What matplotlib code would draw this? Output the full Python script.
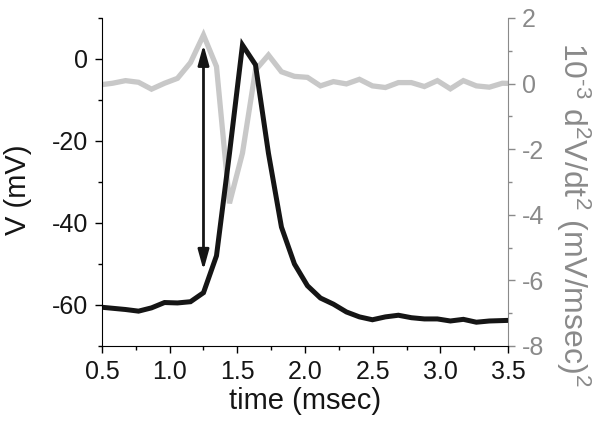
import matplotlib
matplotlib.use('Agg')
import matplotlib.pyplot as plt
from matplotlib.ticker import MultipleLocator

plt.rcParams['font.family'] = ['Liberation Sans', 'DejaVu Sans']
plt.rcParams['axes.unicode_minus'] = False
plt.rcParams['mathtext.fontset'] = 'custom'
plt.rcParams['mathtext.rm'] = 'Liberation Sans'
plt.rcParams['mathtext.it'] = 'Liberation Sans'

# sample times (msec)
time = [0.482, 0.578, 0.674, 0.770, 0.866, 0.962, 1.058, 1.154, 1.250, 1.346,
        1.442, 1.538, 1.634, 1.730, 1.826, 1.922, 2.018, 2.114, 2.210, 2.306,
        2.402, 2.498, 2.594, 2.690, 2.786, 2.882, 2.978, 3.074, 3.170, 3.266,
        3.362, 3.458, 3.554]

# membrane potential (mV)
volt = [-60.5, -60.8, -61.1, -61.5, -60.7, -59.4, -59.5, -59.2, -57.0, -48.0,
        -23.0, 3.4, -1.4, -23.0, -41.0, -50.0, -55.3, -58.3, -59.8, -61.7,
        -62.9, -63.6, -62.9, -62.5, -63.1, -63.4, -63.4, -63.9, -63.5, -64.2,
        -63.9, -63.8, -63.7]

# second derivative, 10^-3 (mV/msec)^2
d2v = [-0.04, 0.01, 0.09, 0.04, -0.17, 0.01, 0.16, 0.64, 1.48, 0.52,
       -3.65, -2.12, 0.41, 0.87, 0.36, 0.22, 0.19, -0.07, 0.06, -0.01,
       0.13, -0.07, -0.12, 0.03, 0.03, -0.09, 0.09, -0.16, 0.09, -0.07,
       -0.11, 0.01, 0.0]

# threshold arrow (time, from V, to V)
arrow_t = 1.25
arrow_lo = -51.5
arrow_hi = 3.5

gray_line = '#c8c8c8'
gray_axis = '#8a8a8a'
dark = '#151515'

fig = plt.figure(figsize=(6.02, 4.28), dpi=100)
ax = fig.add_axes([0.1694, 0.1916, 0.6745, 0.7664])
ax2 = ax.twinx()

ax2.plot(time, d2v, color=gray_line, lw=3.8, solid_joinstyle='miter')
ax.plot(time, volt, color=dark, lw=3.6, solid_joinstyle='miter')
ax.annotate('', xy=(arrow_t, arrow_hi), xytext=(arrow_t, arrow_lo),
            arrowprops=dict(arrowstyle='<|-|>,head_length=0.8,head_width=0.22',
                            color=dark, lw=2, mutation_scale=15,
                            shrinkA=0, shrinkB=0))

ax.set_zorder(ax2.get_zorder() + 1)
ax.patch.set_visible(False)

ax.set_xlim(0.5, 3.5)
ax.set_ylim(-70, 10)
ax2.set_ylim(-8, 2)

ax.xaxis.set_major_locator(MultipleLocator(0.5))
ax.xaxis.set_minor_locator(MultipleLocator(0.25))
ax.yaxis.set_major_locator(MultipleLocator(20))
ax.yaxis.set_minor_locator(MultipleLocator(10))
ax2.yaxis.set_major_locator(MultipleLocator(2))
ax2.yaxis.set_minor_locator(MultipleLocator(1))
ax.xaxis.set_major_formatter(matplotlib.ticker.FormatStrFormatter('%.1f'))

for a in (ax, ax2):
    a.spines['top'].set_visible(False)
ax.spines['right'].set_visible(False)
ax2.spines['left'].set_visible(False)
ax2.spines['bottom'].set_visible(False)
ax2.spines['right'].set_color(gray_axis)

ax.tick_params(which='major', length=5, width=1, labelsize=18, pad=5,
               direction='out', labelcolor=dark)
ax.tick_params(which='minor', length=3, width=1, direction='out')
ax2.tick_params(which='major', length=5, width=1, labelsize=18, pad=5,
                colors=gray_axis, direction='out')
ax2.tick_params(which='minor', length=3, width=1, colors=gray_axis, direction='out')

ax.set_xlabel('time (msec)', fontsize=21, labelpad=2, color=dark)
ax.set_ylabel('V (mV)', fontsize=21, color=dark)
ax.yaxis.set_label_coords(-0.172, 0.476)
ax2.set_ylabel(r'10$^{\mathrm{\text{-}3}}$ d$^{2}$V/dt$^{2}$ (mV/msec)$^{2}$',
               fontsize=23, color=gray_axis, rotation=-90)
ax2.yaxis.set_label_coords(1.207, 0.40)

fig.savefig('out.png', dpi=100)
